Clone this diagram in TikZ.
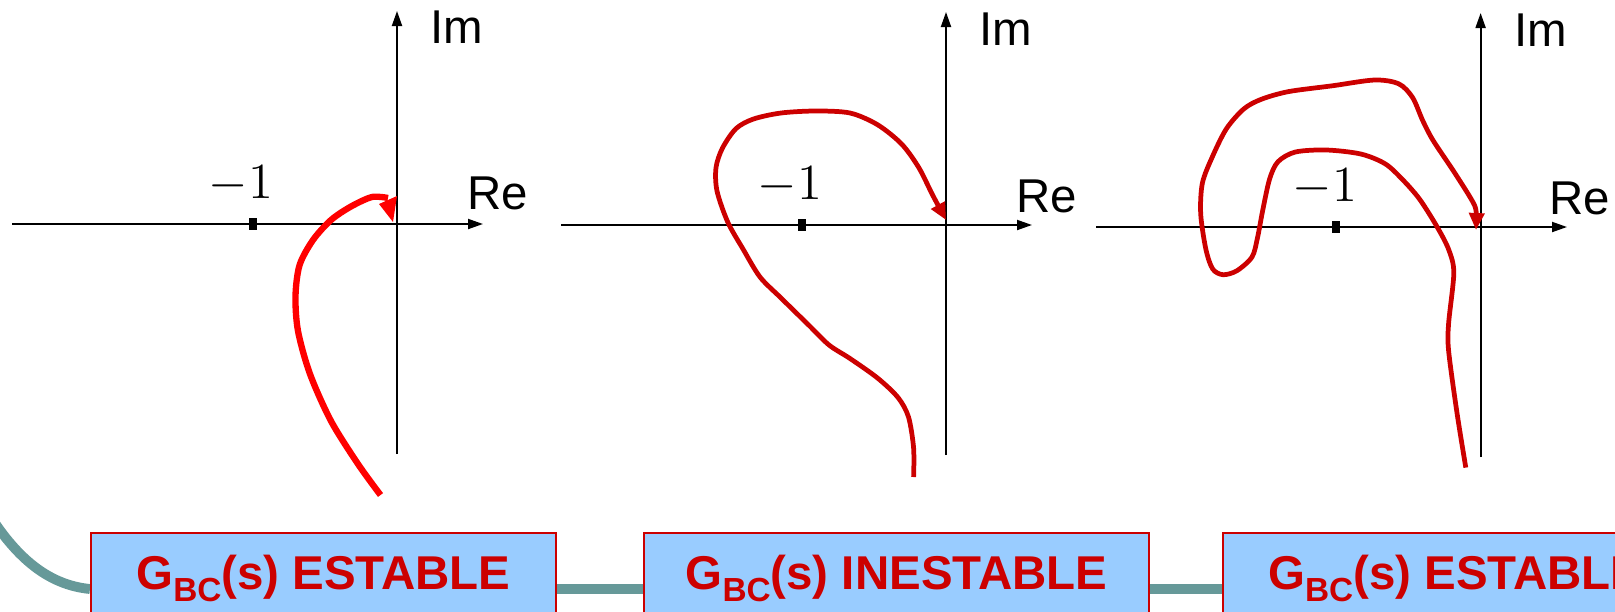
\documentclass[tikz,border=0pt]{standalone}
\usepackage{fontspec}
\newfontfamily\arialfont{Liberation Sans}
\usepackage{xcolor}
\usepackage{tikz}
\usetikzlibrary{arrows.meta,backgrounds}
\definecolor{nyqred}{RGB}{204,0,0}
\definecolor{boxblue}{RGB}{153,204,255}
\definecolor{linkteal}{RGB}{102,153,153}
\tikzset{
  ax/.style={line width=0.55pt,-{Triangle[length=1.5mm,width=1mm]}},
  nyqa/.style={line width=1.8pt,red,line join=round},
  nyq/.style={line width=1.35pt,nyqred,line join=round,-{Triangle[length=1.7mm,width=1.5mm]}},
  tk/.style={fill=black,inner sep=0pt,minimum width=0.8mm,minimum height=1.2mm},
  axlbl/.style={font=\arialfont\fontsize{13.5}{14}\selectfont,inner sep=0pt,anchor=base west},
  numlbl/.style={font=\fontsize{14.4}{15}\selectfont,inner sep=0pt,anchor=base},
  gbox/.style={draw=nyqred,line width=0.6pt,fill=boxblue,text=nyqred,
    font=\arialfont\bfseries\fontsize{13.5}{14}\selectfont,
    text height=3.4mm,text depth=6mm,inner ysep=2.2mm,inner xsep=0pt,anchor=base},
  link/.style={line width=2.8pt,linkteal}
}
\newcommand{\gbc}{G\raisebox{-1.2mm}{\fontsize{9.5}{10}\selectfont BC}(s)}
\begin{document}
\begin{tikzpicture}[x=0.1mm,y=-0.1mm]
\useasboundingbox (0,0) rectangle (1615,611);
% estable
\draw[ax] (12,224) -- (483,224);
\draw[ax] (397,454) -- (397,11);
\node[axlbl] (im1) at (430,43) {Im};
\node[axlbl] (re1) at (467,209) {Re};
\node[tk] (t1) at (253,224) {};
\node[numlbl] (n1) at (241,198) {$-1$};
\draw[nyqa] plot[smooth] coordinates {(380.5,495) (358,464) (331,421) (310,374) (298,331) (295.5,296) (299.6,265) (313,240) (331,220) (351,206.5) (372,197) (388,198)};
\fill[red] (379,204) -- (397,196) -- (393,222) -- cycle;
% inestable
\draw[ax] (561,225) -- (1032,225);
\draw[ax] (946,455) -- (946,12);
\node[axlbl] (im2) at (979,45) {Im};
\node[axlbl] (re2) at (1016,212) {Re};
\node[tk] (t2) at (801.7,225) {};
\node[numlbl] (n2) at (790,199) {$-1$};
\draw[nyq] plot[smooth] coordinates {(913.6,477) (913.6,448) (908.5,417) (898,397.5) (877.5,378) (850,358.5) (829,345) (808.6,325) (781,298) (760,277) (743,249) (727.7,222) (717,191) (716,167.6) (722.5,148) (736,128.6) (753.5,119) (781,113) (815.5,111) (850,113) (877.5,124.7) (901.6,144) (918.8,167.6) (932.6,195) (946,220)};
% estable (dos vueltas)
\draw[ax] (1096,227) -- (1567,227);
\draw[ax] (1480.6,457) -- (1480.6,13);
\node[axlbl] (im3) at (1514,46) {Im};
\node[axlbl] (re3) at (1549,214) {Re};
\node[tk] (t3) at (1336,227) {};
\node[numlbl] (n3) at (1325,201) {$-1$};
\draw[nyq] plot[smooth] coordinates {(1465.8,467.6) (1457,413) (1448.6,350.7) (1448.6,323.5) (1453.8,272.8) (1448.6,249.4) (1436.6,226) (1419.3,198.8) (1402,179) (1385,163.7) (1360.8,154) (1326.4,150) (1295.4,152) (1278,161.7) (1269.6,179) (1262.7,210.4) (1257.5,237.7) (1252,257) (1236.8,270.8) (1223,274.7) (1212.7,269) (1205.9,249.4) (1200.7,214) (1202.4,183) (1212.7,156) (1226.5,128.6) (1243.7,109) (1261,99.4) (1288.5,91.6) (1333,85.7) (1374.6,80) (1398.7,83.8) (1412.5,97.4) (1422.8,120.8) (1433,140.3) (1453.8,171.5) (1471,198.8) (1476,210.4) (1476,230)};
% cajas
\node[gbox,minimum width=46.5mm] (box1) at (323.5,589) {\gbc{} ESTABLE};
\node[gbox,minimum width=50.5mm] (box2) at (896.5,589) {\gbc{} INESTABLE};
\node[gbox,minimum width=46.5mm] (box3) at (1455.2,589) {\gbc{} ESTABLE};
\begin{scope}[on background layer]
\draw[link] (-30,480) .. controls (10,560) and (50,585) .. (box1.base west);
\draw[link] (box1.base east) -- (box2.base west);
\draw[link] (box2.base east) -- (box3.base west);
\end{scope}
\end{tikzpicture}
\end{document}
